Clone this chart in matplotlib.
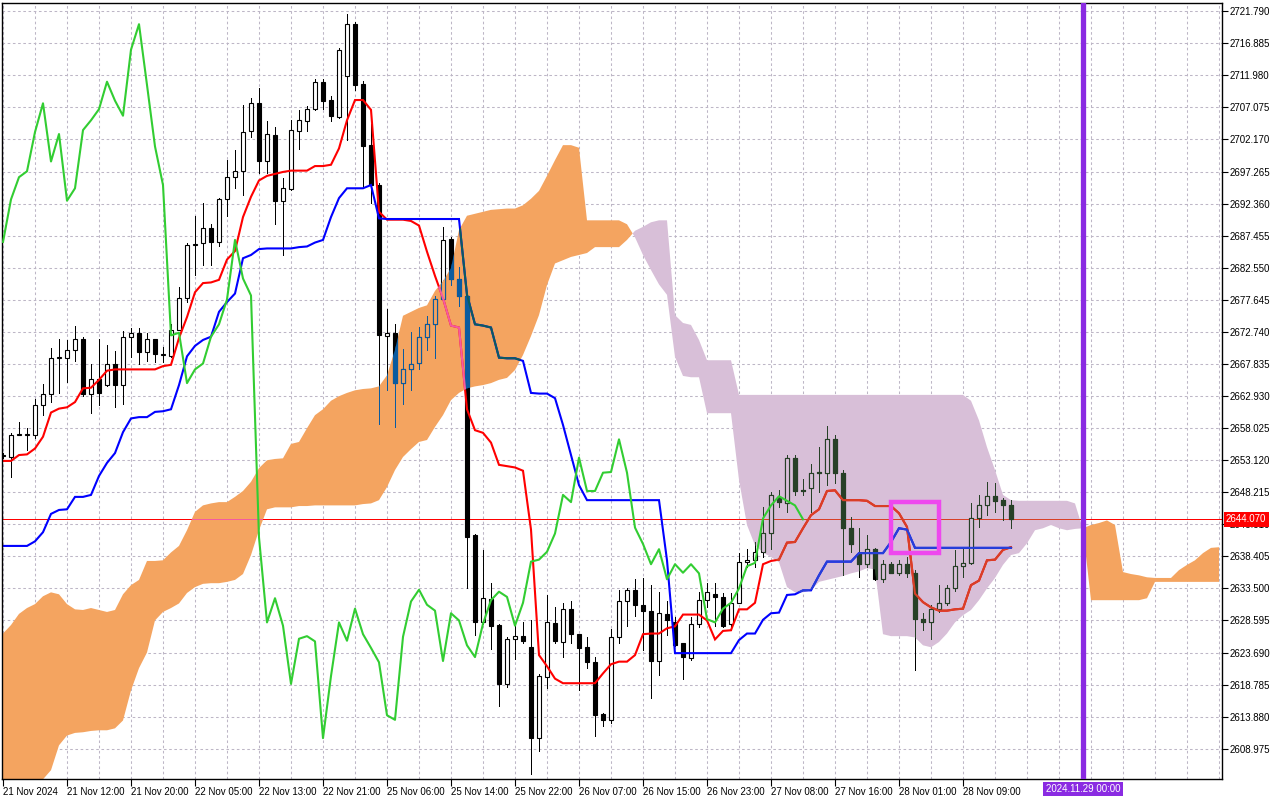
import numpy as np
import matplotlib
matplotlib.use("Agg")
import matplotlib.pyplot as plt
from matplotlib.path import Path
from matplotlib.patches import Rectangle
from matplotlib.transforms import blended_transform_factory

plt.rcParams['font.family'] = ['Liberation Sans', 'DejaVu Sans']

# ---------------- data (XAUUSD H1) ----------------
time_labels = ["21 Nov 2024", "21 Nov 12:00", "21 Nov 20:00", "22 Nov 05:00", "22 Nov 13:00",
               "22 Nov 21:00", "25 Nov 06:00", "25 Nov 14:00", "25 Nov 22:00", "26 Nov 07:00",
               "26 Nov 15:00", "26 Nov 23:00", "27 Nov 08:00", "27 Nov 16:00", "28 Nov 01:00",
               "28 Nov 09:00"]
label_bars = [0, 8, 16, 24, 32, 40, 48, 56, 64, 72, 80, 88, 96, 104, 112, 120]

opens = [2653.7, 2653.6, 2657.0, 2657.0, 2657.0, 2661.5, 2663.2, 2668.8, 2668.8, 2669.9,
         2671.6, 2663.3, 2665.5, 2664.6, 2667.8, 2664.6, 2671.9, 2672.5, 2669.7, 2671.6,
         2669.2, 2669.0, 2673.1, 2677.9, 2686.1, 2686.3, 2688.7, 2686.5, 2693.0, 2696.4,
         2697.3, 2703.4, 2707.7, 2698.8, 2702.8, 2692.8, 2694.6, 2703.5, 2705.0, 2706.8,
         2711.0, 2708.2, 2705.6, 2711.8, 2719.8, 2710.6, 2701.3, 2695.2, 2672.1, 2672.5,
         2664.9, 2667.0, 2668.0, 2672.0, 2673.9, 2677.7, 2686.9, 2680.9, 2678.3, 2641.6,
         2628.3, 2631.9, 2627.9, 2618.9, 2625.8, 2626.2, 2624.5, 2610.6, 2620.0, 2628.2,
         2625.3, 2630.4, 2626.5, 2624.5, 2622.2, 2614.3, 2613.4, 2626.1, 2631.5, 2633.3,
         2631.0, 2630.0, 2622.4, 2629.6, 2628.3, 2625.1, 2622.9, 2628.1, 2631.8, 2632.7,
         2632.2, 2628.0, 2631.3, 2637.6, 2637.8, 2639.1, 2641.9, 2647.3, 2646.5, 2653.5,
         2648.6, 2648.8, 2651.1, 2651.2, 2656.3, 2651.2, 2642.7, 2638.8, 2637.3, 2639.5,
         2634.9, 2637.2, 2635.8, 2637.2, 2635.8, 2628.8, 2628.3, 2630.4, 2631.3, 2633.5,
         2636.9, 2637.4, 2644.2, 2646.2, 2647.6, 2647.0, 2646.2]
highs = [2654.2, 2657.3, 2659.0, 2658.1, 2662.4, 2664.8, 2670.3, 2671.7, 2671.5, 2673.6,
         2671.9, 2667.8, 2671.6, 2670.7, 2669.8, 2672.9, 2673.4, 2673.4, 2672.5, 2671.7,
         2670.5, 2674.0, 2679.6, 2686.4, 2690.5, 2692.5, 2689.2, 2693.2, 2699.0, 2700.6,
         2707.4, 2708.5, 2710.1, 2705.0, 2704.1, 2696.2, 2705.1, 2706.7, 2707.3, 2711.4,
         2711.4, 2708.8, 2716.1, 2721.4, 2720.2, 2711.1, 2704.5, 2695.5, 2676.3, 2674.0,
         2670.1, 2672.7, 2673.5, 2675.2, 2678.3, 2688.8, 2687.2, 2682.7, 2678.7, 2641.8,
         2639.4, 2634.3, 2628.0, 2626.0, 2627.7, 2628.4, 2628.6, 2620.4, 2632.5, 2630.7,
         2631.3, 2631.5, 2626.6, 2626.0, 2623.0, 2614.4, 2627.3, 2633.2, 2633.5, 2634.9,
         2635.1, 2634.0, 2632.9, 2631.5, 2629.1, 2625.2, 2629.1, 2632.9, 2634.3, 2634.3,
         2632.8, 2632.8, 2638.9, 2639.6, 2640.6, 2645.9, 2648.3, 2648.5, 2653.9, 2653.9,
         2650.2, 2652.6, 2655.2, 2658.3, 2656.9, 2651.6, 2644.4, 2642.7, 2641.6, 2639.7,
         2637.8, 2637.6, 2637.8, 2638.3, 2636.3, 2629.7, 2630.9, 2634.0, 2634.0, 2639.4,
         2639.6, 2646.5, 2647.8, 2649.8, 2649.6, 2647.3, 2647.0]
lows = [2653.4, 2650.5, 2656.9, 2654.7, 2656.5, 2660.0, 2662.0, 2663.4, 2665.1, 2668.3,
        2663.0, 2660.4, 2661.5, 2664.5, 2661.3, 2661.7, 2668.9, 2667.9, 2668.3, 2668.2,
        2668.2, 2668.9, 2673.0, 2677.3, 2681.4, 2683.0, 2683.0, 2685.8, 2690.5, 2694.7,
        2693.6, 2702.6, 2697.0, 2697.1, 2689.2, 2684.5, 2694.5, 2700.7, 2703.5, 2706.7,
        2706.9, 2705.0, 2705.5, 2702.1, 2709.8, 2694.8, 2692.4, 2658.6, 2663.9, 2658.2,
        2661.7, 2663.9, 2667.0, 2670.0, 2668.8, 2677.6, 2679.9, 2676.7, 2633.5, 2626.3,
        2628.0, 2624.3, 2615.5, 2618.4, 2622.7, 2625.1, 2605.1, 2608.6, 2618.2, 2625.1,
        2623.0, 2625.1, 2618.0, 2621.3, 2610.9, 2612.5, 2612.9, 2625.2, 2627.8, 2629.3,
        2624.1, 2616.8, 2620.2, 2626.3, 2624.7, 2619.6, 2622.5, 2627.6, 2630.7, 2627.7,
        2627.6, 2627.1, 2631.2, 2636.8, 2636.8, 2638.3, 2639.6, 2645.9, 2645.2, 2647.8,
        2647.8, 2645.2, 2648.3, 2649.3, 2649.6, 2635.5, 2639.1, 2635.3, 2636.8, 2634.8,
        2634.5, 2635.8, 2635.6, 2635.3, 2621.0, 2627.1, 2625.8, 2629.9, 2630.9, 2633.1,
        2635.3, 2637.3, 2642.9, 2644.7, 2645.2, 2643.9, 2642.8]
closes = [2653.9, 2657.0, 2657.1, 2657.1, 2661.5, 2663.2, 2668.8, 2668.9, 2669.9, 2671.6,
          2663.2, 2665.5, 2663.4, 2667.8, 2664.6, 2671.9, 2672.5, 2669.7, 2671.6, 2669.4,
          2669.3, 2673.1, 2677.9, 2686.1, 2686.2, 2688.7, 2686.5, 2693.0, 2696.4, 2697.3,
          2703.3, 2707.7, 2698.8, 2703.0, 2692.8, 2694.7, 2703.6, 2705.1, 2706.8, 2711.0,
          2708.1, 2705.8, 2715.9, 2719.8, 2710.5, 2701.1, 2695.2, 2672.2, 2672.6, 2664.9,
          2667.0, 2667.9, 2672.0, 2673.9, 2677.7, 2686.8, 2680.9, 2678.3, 2641.3, 2628.3,
          2632.0, 2627.8, 2618.9, 2625.8, 2626.2, 2625.4, 2610.6, 2620.1, 2628.3, 2625.5,
          2630.4, 2626.5, 2624.4, 2622.2, 2614.1, 2613.4, 2626.1, 2631.5, 2633.3, 2631.0,
          2630.1, 2622.4, 2629.7, 2628.6, 2624.8, 2623.0, 2628.1, 2631.7, 2633.0, 2632.2,
          2627.8, 2631.3, 2637.6, 2637.9, 2639.1, 2641.9, 2647.8, 2646.7, 2653.5, 2648.4,
          2648.4, 2651.2, 2651.3, 2656.3, 2651.2, 2642.8, 2640.3, 2637.2, 2639.5, 2634.9,
          2637.2, 2635.9, 2637.2, 2635.8, 2628.8, 2628.3, 2630.4, 2631.3, 2633.5, 2636.9,
          2637.4, 2644.2, 2646.2, 2647.6, 2646.9, 2646.2, 2644.07]

tenkan = [2653.0, 2653.0, 2653.9, 2654.0, 2654.9, 2656.7, 2660.4, 2661.0, 2661.2, 2662.0,
          2664.1, 2664.2, 2665.4, 2666.8, 2667.0, 2667.0, 2667.0, 2667.0, 2667.0, 2667.0,
          2667.5, 2667.7, 2671.8, 2675.0, 2678.8, 2680.2, 2680.3, 2680.7, 2683.8, 2685.1,
          2690.3, 2693.4, 2695.9, 2696.6, 2696.9, 2697.2, 2697.4, 2697.4, 2697.4, 2698.1,
          2698.1, 2698.3, 2700.8, 2705.1, 2708.2, 2708.2, 2706.7, 2691.1, 2689.9, 2689.9,
          2689.9, 2689.7, 2689.0, 2685.0, 2681.3, 2677.9, 2673.7, 2673.4, 2660.9, 2657.7,
          2657.3, 2655.8, 2652.4, 2652.2, 2652.0, 2651.5, 2642.5, 2623.3, 2621.6, 2619.7,
          2619.0, 2619.0, 2619.0, 2619.0, 2619.0, 2620.5, 2621.9, 2622.3, 2622.3, 2623.3,
          2626.5, 2626.6, 2626.6, 2627.4, 2627.7, 2629.5, 2629.5, 2629.5, 2628.6, 2625.7,
          2627.0, 2627.1, 2630.3, 2630.3, 2631.3, 2637.2, 2637.7, 2637.9, 2640.5, 2640.6,
          2642.7, 2644.7, 2645.6, 2648.4, 2648.5, 2647.0, 2647.0, 2647.0, 2646.9, 2646.1,
          2646.1, 2646.1, 2645.0, 2642.9, 2632.7, 2631.4, 2630.6, 2630.1, 2630.1, 2630.3,
          2630.4, 2634.0, 2634.7, 2637.8, 2637.9, 2639.4, 2639.8]

kijun = [2640.0, 2640.0, 2640.0, 2640.0, 2640.7, 2642.1, 2644.9, 2645.5, 2645.6, 2647.5,
         2647.5, 2647.8, 2650.7, 2652.7, 2654.2, 2657.4, 2659.5, 2659.7, 2659.7, 2660.5,
         2660.6, 2660.9, 2664.6, 2669.0, 2670.6, 2671.5, 2672.0, 2675.8, 2677.3, 2678.6,
         2684.0, 2684.5, 2685.4, 2685.5, 2685.5, 2685.5, 2685.5, 2685.7, 2685.8, 2686.4,
         2686.8, 2690.3, 2693.2, 2694.7, 2694.7, 2694.7, 2695.2, 2690.1, 2690.0, 2690.0,
         2690.0, 2690.0, 2690.0, 2690.0, 2690.0, 2690.0, 2690.0, 2690.0, 2678.4, 2673.9,
         2673.7, 2673.4, 2668.8, 2668.7, 2668.7, 2668.3, 2663.4, 2663.3, 2663.3, 2662.6,
         2658.5, 2653.9, 2649.3, 2647.0, 2647.0, 2647.0, 2647.0, 2647.0, 2647.0, 2647.0,
         2647.0, 2647.0, 2647.0, 2637.8, 2623.6, 2623.6, 2623.6, 2623.6, 2623.6, 2623.6,
         2623.6, 2623.6, 2625.6, 2626.6, 2626.6, 2628.7, 2629.7, 2629.8, 2632.5, 2632.6,
         2633.2, 2633.2, 2635.5, 2637.6, 2637.6, 2637.6, 2637.6, 2638.9, 2638.9, 2638.9,
         2638.9, 2640.6, 2642.7, 2642.5, 2639.7, 2639.7, 2639.7, 2639.7, 2639.7, 2639.7,
         2639.7, 2639.7, 2639.7, 2639.7, 2639.7, 2639.7, 2639.7]

span_a = [2626.6, 2627.9, 2629.6, 2630.5, 2631.1, 2632.3, 2632.9, 2632.6, 2631.1, 2630.3,
          2630.2, 2630.5, 2630.2, 2629.9, 2630.2, 2632.6, 2634.0, 2634.8, 2637.7, 2637.7,
          2637.8, 2639.0, 2640.0, 2642.4, 2645.2, 2646.2, 2646.5, 2646.7, 2646.7, 2647.5,
          2648.4, 2649.8, 2651.9, 2653.1, 2653.3, 2653.4, 2655.6, 2655.9, 2658.0, 2660.0,
          2660.9, 2662.2, 2662.9, 2663.4, 2663.8, 2664.0, 2664.1, 2664.4, 2666.1, 2670.0,
          2675.2, 2675.8, 2676.4, 2676.8, 2679.0, 2680.5, 2682.5, 2688.3, 2690.5, 2690.8,
          2691.1, 2691.4, 2691.5, 2691.6, 2691.6, 2692.1, 2693.1, 2694.3, 2696.6, 2699.0,
          2701.3, 2701.3, 2700.9, 2689.8, 2689.8, 2689.8, 2689.8, 2689.8, 2689.2, 2687.2,
          2684.5, 2682.2, 2680.0, 2678.4, 2668.9, 2666.0, 2665.8, 2665.8, 2660.3, 2660.3,
          2660.3, 2660.3, 2650.1, 2643.2, 2640.1, 2639.0, 2638.3, 2637.5, 2633.7, 2632.9,
          2632.9, 2633.2, 2634.5, 2634.8, 2635.1, 2635.4, 2635.8, 2636.1, 2636.6, 2636.4,
          2626.5, 2626.2, 2626.2, 2626.2, 2626.0, 2624.8, 2624.5, 2625.3, 2626.6, 2628.3,
          2629.4, 2630.2, 2631.7, 2633.5, 2635.1, 2637.1, 2638.6, 2638.9, 2640.4, 2642.4,
          2642.7, 2643.2, 2642.7, 2642.4, 2642.6, 2642.7, 2643.2, 2643.5, 2643.9, 2643.2,
          2636.0, 2635.7, 2635.5, 2635.2, 2635.1, 2635.1, 2635.1, 2636.3, 2637.1, 2637.8,
          2638.9, 2639.7, 2639.8]

span_b = [2601.1, 2601.9, 2602.6, 2603.2, 2603.9, 2604.3, 2605.7, 2609.5, 2611.0, 2611.4,
          2611.5, 2611.7, 2611.8, 2611.8, 2612.1, 2613.3, 2617.9, 2621.3, 2623.7, 2628.6,
          2629.9, 2630.5, 2631.2, 2632.8, 2633.7, 2634.2, 2634.3, 2634.3, 2634.5, 2634.8,
          2635.7, 2638.6, 2642.4, 2645.6, 2645.9, 2645.9, 2645.9, 2646.1, 2646.1, 2646.2,
          2646.2, 2646.2, 2646.2, 2646.2, 2646.2, 2646.4, 2646.5, 2647.0, 2649.0, 2651.6,
          2653.6, 2654.8, 2655.9, 2656.2, 2658.2, 2660.0, 2662.3, 2663.4, 2664.1, 2664.4,
          2664.6, 2664.9, 2665.4, 2665.7, 2666.9, 2669.2, 2672.1, 2675.3, 2679.9, 2683.2,
          2683.7, 2684.2, 2684.5, 2684.8, 2685.7, 2685.7, 2685.7, 2685.7, 2686.8, 2688.2,
          2688.8, 2689.5, 2689.8, 2689.8, 2675.3, 2674.1, 2673.8, 2671.5, 2668.4, 2668.4,
          2668.4, 2668.4, 2663.1, 2663.1, 2663.1, 2663.1, 2663.1, 2663.1, 2663.1, 2663.1,
          2663.1, 2663.1, 2663.1, 2663.1, 2663.1, 2663.1, 2663.1, 2663.1, 2663.1, 2663.1,
          2663.1, 2663.1, 2663.1, 2663.1, 2663.1, 2663.1, 2663.1, 2663.1, 2663.1, 2663.1,
          2663.1, 2662.2, 2659.2, 2655.1, 2651.6, 2647.8, 2647.0, 2646.9, 2646.9, 2646.9,
          2646.9, 2646.9, 2646.9, 2646.9, 2646.5, 2642.5, 2631.7, 2631.7, 2631.7, 2631.7,
          2631.7, 2631.7, 2631.7, 2632.0, 2634.5, 2634.5, 2634.5, 2634.5, 2634.5, 2634.5,
          2634.5, 2634.5, 2634.5]

chikou_shift = 26
last_price = 2644.07
future_bar = 135
future_label = "2024.11.29 00:00"
box_bars = [111, 117]
box_prices = [2638.9, 2646.7]
price_ticks = [2721.790, 2716.885, 2711.980, 2707.075, 2702.170, 2697.265, 2692.360, 2687.455,
               2682.550, 2677.645, 2672.740, 2667.835, 2662.930, 2658.025, 2653.120, 2648.215,
               2643.310, 2638.405, 2633.500, 2628.595, 2623.690, 2618.785, 2613.880, 2608.975]

# ---------------- styles ----------------
SANDY = '#F4A460'
THISTLE = '#D8BFD8'


def xor_color(col, cloud):
    c = int(col[1:], 16)
    k = int(cloud[1:], 16)
    return '#%06X' % (c ^ 0xFFFFFF ^ k)


fig = plt.figure(figsize=(12.8, 8), dpi=100)
fig.patch.set_facecolor('white')
ax = fig.add_axes([2 / 1280, 21 / 800, 1220 / 1280, 776 / 800])
ax.set_facecolor('white')

o = np.array(opens)
h = np.array(highs)
l = np.array(lows)
c = np.array(closes)
idx = np.arange(len(o))

A = np.array(span_a)
B = np.array(span_b)
xc = np.arange(len(A))
orange = ax.fill_between(xc, A, B, where=A >= B, interpolate=True, facecolor=SANDY,
                         edgecolor='none', linewidth=0, zorder=1)
thist = ax.fill_between(xc, A, B, where=A < B, interpolate=True, facecolor=THISTLE,
                        edgecolor='none', linewidth=0, zorder=1)


def compound(coll):
    ps = [p for p in coll.get_paths() if len(p.vertices)]
    return Path.make_compound_path(*ps) if ps else None


def layer(cloud, z, clip):
    if cloud is None:
        wick, bull, red, blue = '#000000', '#FFFFFF', '#FF0000', '#0000FF'
    else:
        wick = xor_color('#000000', cloud)
        bull = cloud
        red = xor_color('#FF0000', cloud)
        blue = xor_color('#0000FF', cloud)
    bear = wick
    arts = []
    arts.append(ax.axhline(last_price, color=red, lw=0.72, zorder=z - 0.2, antialiased=False,
                           snap=True))
    arts.append(ax.vlines(idx, l, h, colors=wick, lw=0.6, zorder=z, antialiased=False))
    bottoms = np.minimum(o, c)
    heights = np.maximum(np.abs(c - o), 0.12)
    fcs = [bull if cc >= oo else bear for oo, cc in zip(o, c)]
    bars = ax.bar(idx, heights, bottom=bottoms, width=0.5, color=fcs, edgecolor=wick,
                  linewidth=0.8, zorder=z + 0.05)
    arts.extend(bars.patches)
    arts.extend(ax.plot(idx, tenkan, color=red, lw=1.5, zorder=z + 0.1, solid_joinstyle='miter'))
    arts.extend(ax.plot(idx, kijun, color=blue, lw=1.5, zorder=z + 0.1, solid_joinstyle='miter'))
    if clip is not None:
        for a in arts:
            a.set_clip_path(clip, ax.transData)


layer(None, 2, None)
cp = compound(orange)
if cp is not None:
    layer(SANDY, 3, cp)
cp = compound(thist)
if cp is not None:
    layer(THISTLE, 3, cp)

# Chikou span: closes plotted 26 bars back
ax.plot(idx[:len(c) - chikou_shift], c[chikou_shift:], color='#32CD32', lw=1.5, zorder=5)

# rectangle object
ax.add_patch(Rectangle((box_bars[0], box_prices[0]), box_bars[1] - box_bars[0],
                       box_prices[1] - box_prices[0], fill=False, edgecolor='#EE48EE',
                       linewidth=3.2, zorder=5.5, joinstyle='miter'))

# vertical time line
ax.axvline(future_bar, color='#8A2BE2', lw=3.8, zorder=6)

# ---------------- axes ----------------
ax.set_xlim(-0.125, 152.375)
ax.set_ylim(2604.35, 2723.04)

ax.set_xticks(label_bars)
ax.set_xticklabels(time_labels, ha='left')
ax.set_xticks([m for m in range(0, 153, 4) if m not in label_bars], minor=True)
ax.tick_params(axis='x', which='major', direction='out', length=5, width=0.8, pad=1,
               labelsize=7, colors='black')
ax.tick_params(axis='x', which='minor', length=0)

ax.yaxis.tick_right()
ax.set_yticks(price_ticks)
ax.set_yticklabels([f"{v:.3f}" for v in price_ticks])
ax.tick_params(axis='y', direction='out', length=4, width=0.8, pad=1.5, labelsize=7,
               colors='black')

ax.set_axisbelow(True)
ax.grid(True, which='both', color='#BDB6C6', linestyle=(0, (2.5, 2.5)), linewidth=0.75)
for s in ax.spines.values():
    s.set_linewidth(1.0)
    s.set_color('black')

# price label (covers the nearby axis label as in the terminal)
tr_y = blended_transform_factory(ax.transAxes, ax.transData)
ax.text(1.0033, last_price, f"{last_price:.3f}", transform=tr_y, ha='left', va='center',
        color='white', fontsize=7, zorder=20, clip_on=False,
        bbox=dict(boxstyle='square,pad=0.25', facecolor='#FF0000', edgecolor='none'))

# time label
tr_x = blended_transform_factory(ax.transData, ax.transAxes)
ax.text(future_bar, -0.0129, future_label, transform=tr_x, ha='center', va='center',
        color='white', fontsize=7, zorder=20, clip_on=False,
        bbox=dict(boxstyle='square,pad=0.25', facecolor='#8A2BE2', edgecolor='none'))

fig.savefig('out.png', dpi=100)
